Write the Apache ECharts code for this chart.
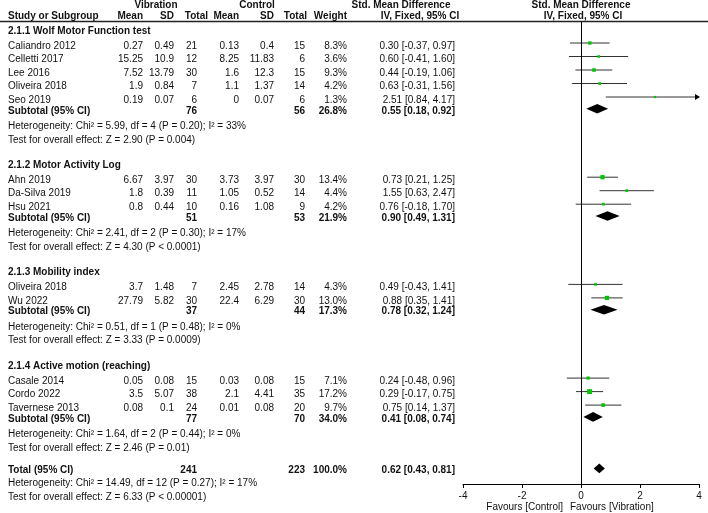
<!DOCTYPE html>
<html><head><meta charset="utf-8">
<script src="https://cdn.jsdelivr.net/npm/echarts@6/dist/echarts.min.js"></script>
<style>html,body{margin:0;padding:0;background:#fff}#c{width:708px;height:513px}</style>
</head><body><div id="c"></div>
<script>
// ---------------- DATA ----------------
const groupTitles = ['2.1.1 Wolf Motor Function test', '2.1.2 Motor Activity Log', '2.1.3 Mobility index', '2.1.4 Active motion (reaching)'];
const studies = ['Caliandro 2012', 'Celletti 2017', 'Lee 2016', 'Oliveira 2018', 'Seo 2019',
  'Ahn 2019', 'Da-Silva 2019', 'Hsu 2021',
  'Oliveira 2018', 'Wu 2022',
  'Casale 2014', 'Cordo 2022', 'Tavernese 2013'];
const studyGroup = [0, 0, 0, 0, 0, 1, 1, 1, 2, 2, 3, 3, 3];
const vibMean = [0.27, 15.25, 7.52, 1.9, 0.19, 6.67, 1.8, 0.8, 3.7, 27.79, 0.05, 3.5, 0.08];
const vibSD = [0.49, 10.9, 13.79, 0.84, 0.07, 3.97, 0.39, 0.44, 1.48, 5.82, 0.08, 5.07, 0.1];
const vibN = [21, 12, 30, 7, 6, 30, 11, 10, 7, 30, 15, 38, 24];
const ctlMean = [0.13, 8.25, 1.6, 1.1, 0, 3.73, 1.05, 0.16, 2.45, 22.4, 0.03, 2.1, 0.01];
const ctlSD = [0.4, 11.83, 12.3, 1.37, 0.07, 3.97, 0.52, 1.08, 2.78, 6.29, 0.08, 4.41, 0.08];
const ctlN = [15, 6, 15, 14, 6, 30, 14, 9, 14, 30, 15, 35, 20];
const weight = [8.3, 3.6, 9.3, 4.2, 1.3, 13.4, 4.4, 4.2, 4.3, 13.0, 7.1, 17.2, 9.7];
const smd = [0.30, 0.60, 0.44, 0.63, 2.51, 0.73, 1.55, 0.76, 0.49, 0.88, 0.24, 0.29, 0.75];
const ciLow = [-0.37, -0.41, -0.19, -0.31, 0.84, 0.21, 0.63, -0.18, -0.43, 0.35, -0.48, -0.17, 0.14];
const ciHigh = [0.97, 1.60, 1.06, 1.56, 4.17, 1.25, 2.47, 1.70, 1.41, 1.41, 0.96, 0.75, 1.37];

const subVibN = [76, 51, 37, 77];
const subCtlN = [56, 53, 44, 70];
const subWeight = [26.8, 21.9, 17.3, 34.0];
const subSmd = [0.55, 0.90, 0.78, 0.41];
const subLow = [0.18, 0.49, 0.32, 0.08];
const subHigh = [0.92, 1.31, 1.24, 0.74];
const subHet = ['Heterogeneity: Chi² = 5.99, df = 4 (P = 0.20); I² = 33%',
  'Heterogeneity: Chi² = 2.41, df = 2 (P = 0.30); I² = 17%',
  'Heterogeneity: Chi² = 0.51, df = 1 (P = 0.48); I² = 0%',
  'Heterogeneity: Chi² = 1.64, df = 2 (P = 0.44); I² = 0%'];
const subTest = ['Test for overall effect: Z = 2.90 (P = 0.004)',
  'Test for overall effect: Z = 4.30 (P < 0.0001)',
  'Test for overall effect: Z = 3.33 (P = 0.0009)',
  'Test for overall effect: Z = 2.46 (P = 0.01)'];

const totalVibN = 241, totalCtlN = 223, totalWeight = 100.0;
const totalSmd = 0.62, totalLow = 0.43, totalHigh = 0.81;
const totalHet = 'Heterogeneity: Chi² = 14.49, df = 12 (P = 0.27); I² = 17%';
const totalTest = 'Test for overall effect: Z = 6.33 (P < 0.00001)';

const xTicks = [-4, -2, 0, 2, 4];
const favourLeft = 'Favours [Control]';
const favourRight = 'Favours [Vibration]';

// ---------------- LAYOUT ----------------
const W = 708, H = 513;
const PLOT_LEFT = 463, PLOT_RIGHT = 699, PLOT_TOP = 22, AXIS_Y = 484;
const FS = 10;
const FONT = '"Liberation Sans", Arial, sans-serif';
const COL = { name: 8, vMean: 143, vSD: 174, vN: 197, cMean: 239, cSD: 274, cN: 305, w: 347, ci: 455 };
const L = { first: 31, hToS: 15, sStep: 13.5, toSub: 10.8, subToHet: 15.5, hetToTest: 13.5, testToHead: 25.4, testToTotal: 22.5, totHet: 13, totTest: 13.5 };
const MARK_DY = -3, DIA_DY = -2;

const texts = [];
function T(x, y, text, align, bold) { texts.push({ x, y, text: String(text), align: align || 'right', bold: !!bold }); }
const fmtCI = (e, l, h) => `${e.toFixed(2)} [${l.toFixed(2)}, ${h.toFixed(2)}]`;

// headers
T(156, 5, 'Vibration', 'center', true);
T(257, 5, 'Control', 'center', true);
T(401, 5, 'Std. Mean Difference', 'center', true);
T(581, 5, 'Std. Mean Difference', 'center', true);
T(COL.name, 16.5, 'Study or Subgroup', 'left', true);
T(COL.vMean, 16.5, 'Mean', 'right', true);
T(COL.vSD, 16.5, 'SD', 'right', true);
T(208, 16.5, 'Total', 'right', true);
T(COL.cMean, 16.5, 'Mean', 'right', true);
T(COL.cSD, 16.5, 'SD', 'right', true);
T(307, 16.5, 'Total', 'right', true);
T(COL.w, 16.5, 'Weight', 'right', true);
T(420, 16.5, 'IV, Fixed, 95% CI', 'center', true);
T(583, 16.5, 'IV, Fixed, 95% CI', 'center', true);

const ciData = [];   // [lo, hi, est, y, weight]
const diaData = [];  // [lo, hi, est, y]
let y = L.first;
groupTitles.forEach((g, gi) => {
  T(COL.name, y, g, 'left', true);
  y += L.hToS;
  let last = y;
  studies.forEach((s, i) => {
    if (studyGroup[i] !== gi) return;
    T(COL.name, y, s, 'left');
    T(COL.vMean, y, vibMean[i]); T(COL.vSD, y, vibSD[i]); T(COL.vN, y, vibN[i]);
    T(COL.cMean, y, ctlMean[i]); T(COL.cSD, y, ctlSD[i]); T(COL.cN, y, ctlN[i]);
    T(COL.w, y, weight[i].toFixed(1) + '%');
    T(COL.ci, y, fmtCI(smd[i], ciLow[i], ciHigh[i]));
    ciData.push([ciLow[i], ciHigh[i], smd[i], y + MARK_DY, weight[i]]);
    last = y;
    y += L.sStep;
  });
  y = last + L.toSub;
  T(COL.name, y, 'Subtotal (95% CI)', 'left', true);
  T(COL.vN, y, subVibN[gi], 'right', true);
  T(COL.cN, y, subCtlN[gi], 'right', true);
  T(COL.w, y, subWeight[gi].toFixed(1) + '%', 'right', true);
  T(COL.ci, y, fmtCI(subSmd[gi], subLow[gi], subHigh[gi]), 'right', true);
  diaData.push([subLow[gi], subHigh[gi], subSmd[gi], y + DIA_DY]);
  y += L.subToHet;
  T(COL.name, y, subHet[gi], 'left');
  y += L.hetToTest;
  T(COL.name, y, subTest[gi], 'left');
  y += (gi < groupTitles.length - 1) ? L.testToHead : L.testToTotal;
});
T(COL.name, y, 'Total (95% CI)', 'left', true);
T(COL.vN, y, totalVibN, 'right', true);
T(COL.cN, y, totalCtlN, 'right', true);
T(COL.w, y, totalWeight.toFixed(1) + '%', 'right', true);
T(COL.ci, y, fmtCI(totalSmd, totalLow, totalHigh), 'right', true);
diaData.push([totalLow, totalHigh, totalSmd, y + DIA_DY]);
y += L.totHet;
T(COL.name, y, totalHet, 'left');
y += L.totTest;
T(COL.name, y, totalTest, 'left');

T(563, 507.5, favourLeft, 'right');
T(570, 507.5, favourRight, 'left');

const X_MIN = xTicks[0], X_MAX = xTicks[xTicks.length - 1];

// ---------------- CHART ----------------
const chart = echarts.init(document.getElementById('c'), null, { renderer: 'canvas' });
chart.setOption({
  animation: false,
  backgroundColor: '#ffffff',
  grid: [
    { left: 0, right: 0, top: 0, bottom: 0 },
    { left: PLOT_LEFT, right: W - PLOT_RIGHT, top: PLOT_TOP, bottom: H - AXIS_Y }
  ],
  xAxis: [
    { gridIndex: 0, type: 'value', min: 0, max: W, show: false },
    { gridIndex: 1, type: 'value', min: X_MIN, max: X_MAX, interval: 2,
      axisLine: { show: true, lineStyle: { color: '#000', width: 1 } },
      axisTick: { show: true, length: 4, lineStyle: { color: '#000' } },
      axisLabel: { show: true, fontSize: FS, fontFamily: FONT, color: '#111', margin: 7 },
      splitLine: { show: false } }
  ],
  yAxis: [
    { gridIndex: 0, type: 'value', min: 0, max: H, inverse: true, show: false },
    { gridIndex: 1, type: 'value', min: PLOT_TOP, max: AXIS_Y, inverse: true, show: false }
  ],
  graphic: [{
    type: 'line', shape: { x1: 0, y1: 21.5, x2: W, y2: 21.5 },
    style: { stroke: '#222', lineWidth: 1.5 }, silent: true
  }],
  series: [
    {
      type: 'custom', xAxisIndex: 0, yAxisIndex: 0, silent: true,
      data: texts.map(t => [t.x, t.y]),
      renderItem: (params, api) => {
        const t = texts[params.dataIndex];
        const p = api.coord([api.value(0), api.value(1)]);
        return {
          type: 'text', x: p[0], y: p[1],
          style: { text: t.text, align: t.align, verticalAlign: 'middle',
            font: (t.bold ? 'bold ' : '') + FS + 'px ' + FONT, fill: '#111' }
        };
      }
    },
    {
      type: 'line', xAxisIndex: 1, yAxisIndex: 1, data: [], silent: true,
      markLine: { silent: true, symbol: ['none', 'none'], label: { show: false },
        lineStyle: { color: '#000', width: 1, type: 'solid' }, data: [{ xAxis: 0 }] }
    },
    {
      type: 'custom', xAxisIndex: 1, yAxisIndex: 1, silent: true, clip: false,
      data: ciData,
      renderItem: (params, api) => {
        const yy = api.value(3);
        const hiVal = api.value(1);
        const a = api.coord([Math.max(api.value(0), X_MIN), yy]);
        const b = api.coord([Math.min(hiVal, X_MAX), yy]);
        const m = api.coord([api.value(2), yy]);
        const s = 2 + api.value(4) * 0.17;
        const children = [
          { type: 'line', shape: { x1: a[0], y1: a[1], x2: b[0], y2: b[1] }, style: { stroke: '#333', lineWidth: 1 } },
          { type: 'rect', shape: { x: m[0] - s / 2, y: m[1] - s / 2, width: s, height: s }, style: { fill: '#00c800' } }
        ];
        if (hiVal > X_MAX) {
          children.push({ type: 'polygon', shape: { points: [[b[0] + 1, b[1]], [b[0] - 4, b[1] - 3], [b[0] - 4, b[1] + 3]] }, style: { fill: '#000' } });
        }
        return { type: 'group', children };
      }
    },
    {
      type: 'custom', xAxisIndex: 1, yAxisIndex: 1, silent: true, clip: false,
      data: diaData,
      renderItem: (params, api) => {
        const yy = api.value(3);
        const a = api.coord([api.value(0), yy]);
        const b = api.coord([api.value(1), yy]);
        const m = api.coord([api.value(2), yy]);
        const hh = 4.8;
        return { type: 'polygon', shape: { points: [[a[0], a[1]], [m[0], m[1] - hh], [b[0], b[1]], [m[0], m[1] + hh]] }, style: { fill: '#000' } };
      }
    }
  ]
});
</script>
</body></html>
